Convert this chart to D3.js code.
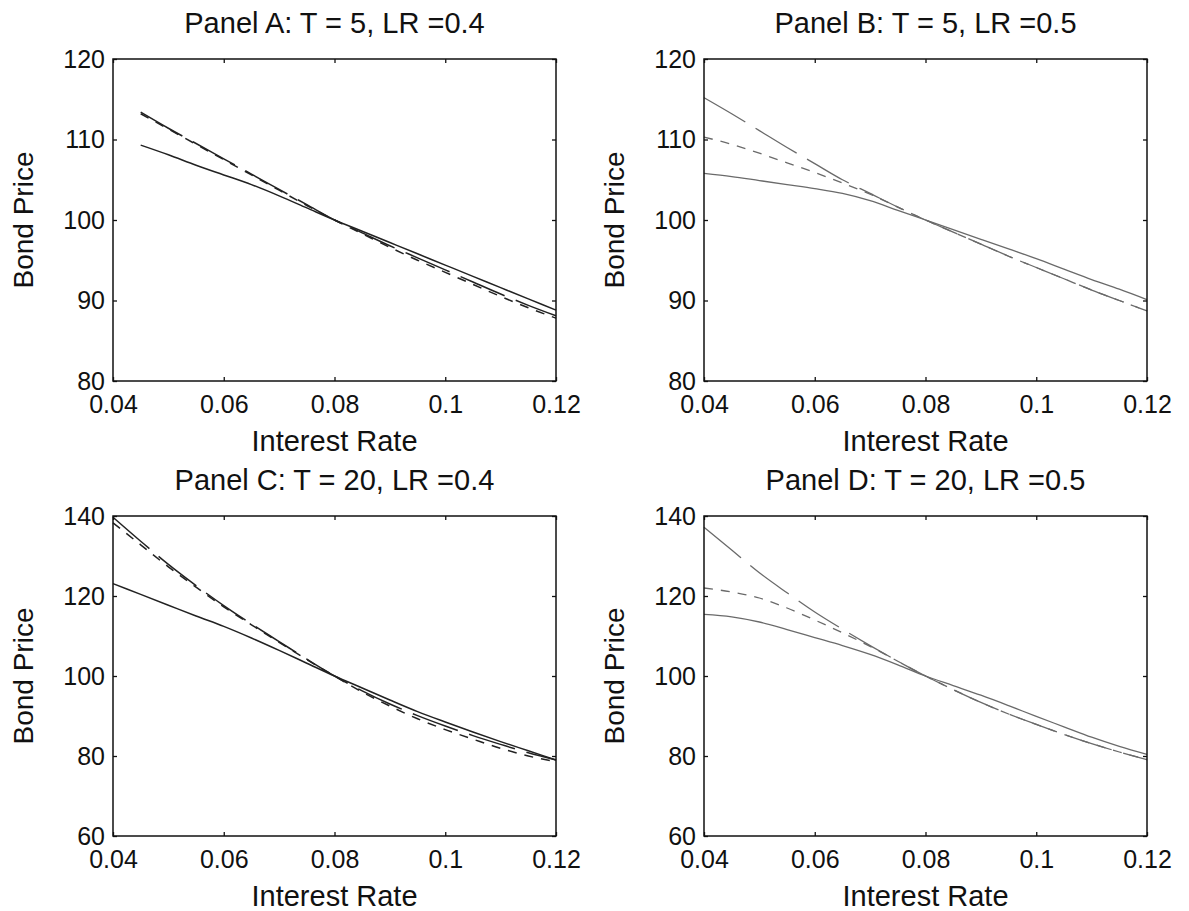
<!DOCTYPE html>
<html>
<head>
<meta charset="utf-8">
<script src="https://cdn.jsdelivr.net/npm/d3@7"></script>
<style>
  body { margin: 0; background: #fff; }
  text { font-family: "Liberation Sans", Arial, Helvetica, sans-serif; fill: #111; }
</style>
</head>
<body>
<svg id="chart" width="1189" height="911"></svg>
<script>
// interest rate grid (panel A starts at 0.045)
var rates  = [0.04, 0.045, 0.05, 0.055, 0.06, 0.065, 0.07, 0.075, 0.08, 0.085, 0.09, 0.095, 0.1, 0.105, 0.11, 0.115, 0.12];
var ratesA = [0.045, 0.05, 0.055, 0.06, 0.065, 0.07, 0.075, 0.08, 0.085, 0.09, 0.095, 0.1, 0.105, 0.11, 0.115, 0.12];

// Panel A: T = 5, LR = 0.4
var aSolid = [109.3, 108.1, 106.8, 105.6, 104.4, 103.0, 101.5, 100.0, 98.6, 97.2, 95.8, 94.4, 93.0, 91.6, 90.2, 88.8];
var aLong  = [113.4, 111.4, 109.5, 107.6, 105.7, 103.8, 101.9, 100.0, 98.4, 96.8, 95.3, 93.8, 92.3, 90.8, 89.4, 88.1];
var aShort = [113.2, 111.3, 109.4, 107.5, 105.6, 103.7, 101.8, 100.0, 98.3, 96.6, 95.0, 93.5, 92.0, 90.5, 89.1, 87.8];

// Panel B: T = 5, LR = 0.5
var bSolid = [105.8, 105.4, 104.9, 104.4, 103.9, 103.3, 102.4, 101.2, 100.0, 98.8, 97.6, 96.4, 95.2, 93.9, 92.6, 91.4, 90.1];
var bLong  = [115.2, 113.2, 111.1, 109.0, 107.0, 105.0, 103.3, 101.6, 100.0, 98.5, 97.0, 95.5, 94.1, 92.7, 91.3, 90.0, 88.7];
var bShort = [110.3, 109.4, 108.3, 107.1, 105.9, 104.6, 103.2, 101.6, 100.0, 98.5, 97.0, 95.5, 94.1, 92.7, 91.3, 90.0, 88.7];

// Panel C: T = 20, LR = 0.4
var cSolid = [123.1, 120.4, 117.7, 115.0, 112.4, 109.5, 106.4, 103.2, 100.0, 97.0, 94.0, 91.1, 88.5, 86.0, 83.6, 81.3, 79.0];
var cLong  = [139.7, 133.7, 127.9, 122.6, 117.6, 113.0, 108.6, 104.2, 100.0, 96.3, 93.0, 90.1, 87.5, 85.1, 82.9, 80.8, 79.0];
var cShort = [138.3, 132.8, 127.3, 122.2, 117.3, 112.8, 108.4, 104.1, 100.0, 96.0, 92.5, 89.3, 86.6, 84.2, 81.9, 80.0, 78.6];

// Panel D: T = 20, LR = 0.5
var dSolid = [115.4, 114.8, 113.5, 111.6, 109.6, 107.6, 105.4, 102.8, 100.0, 97.6, 95.2, 92.6, 89.9, 87.3, 84.7, 82.4, 80.4];
var dLong  = [137.2, 131.5, 125.8, 120.8, 116.0, 111.7, 107.6, 103.7, 100.0, 96.6, 93.4, 90.5, 87.9, 85.4, 83.1, 81.0, 79.1];
var dShort = [122.0, 121.0, 119.5, 117.0, 114.0, 110.8, 107.4, 103.7, 100.0, 96.6, 93.4, 90.5, 87.9, 85.4, 83.1, 81.0, 79.1];

var xTicks = [0.04, 0.06, 0.08, 0.1, 0.12];
var yTicksTop = [80, 90, 100, 110, 120];
var yTicksBottom = [60, 80, 100, 120, 140];

var panels = [
    {title: "Panel A: T = 5, LR =0.4", left: 113, top: 59, bottom: 381, yDom: [80, 120], yTicks: yTicksTop,
     x: ratesA, series: [aSolid, aLong, aShort], color: "#222", width: 1.5},
    {title: "Panel B: T = 5, LR =0.5", left: 704, top: 59, bottom: 381, yDom: [80, 120], yTicks: yTicksTop,
     x: rates, series: [bSolid, bLong, bShort], color: "#6a6a6a", width: 1.3},
    {title: "Panel C: T = 20, LR =0.4", left: 113, top: 516, bottom: 836, yDom: [60, 140], yTicks: yTicksBottom,
     x: rates, series: [cSolid, cLong, cShort], color: "#222", width: 1.5},
    {title: "Panel D: T = 20, LR =0.5", left: 704, top: 516, bottom: 836, yDom: [60, 140], yTicks: yTicksBottom,
     x: rates, series: [dSolid, dLong, dShort], color: "#6a6a6a", width: 1.3}
];
var plotWidth = 443;
var dashes = [null, "48,12", "9,8"];

var svg = d3.select("#chart");

panels.forEach(function (p) {
    var w = plotWidth, h = p.bottom - p.top;
    var g = svg.append("g").attr("transform", "translate(" + p.left + "," + p.top + ")");

    var xScale = d3.scaleLinear().domain([0.04, 0.12]).range([0, w]);
    var yScale = d3.scaleLinear().domain(p.yDom).range([h, 0]);

    // curves
    var line = d3.line()
        .x(function (d) { return xScale(d[0]); })
        .y(function (d) { return yScale(d[1]); })
        .curve(d3.curveMonotoneX);

    p.series.forEach(function (vals, i) {
        var pts = vals.map(function (v, j) { return [p.x[j], v]; });
        g.append("path")
            .attr("d", line(pts))
            .attr("fill", "none")
            .attr("stroke", p.color)
            .attr("stroke-width", p.width)
            .attr("stroke-dasharray", dashes[i]);
    });

    // axes, ticks point inward on all four sides
    var fmt = function (d) { return String(d); };
    g.append("g").attr("transform", "translate(0," + h + ")")
        .call(d3.axisBottom(xScale).tickValues(xTicks).tickFormat(fmt).tickSize(-4).tickPadding(14));
    g.append("g")
        .call(d3.axisLeft(yScale).tickValues(p.yTicks).tickSize(-4).tickPadding(8));
    g.append("g").call(d3.axisTop(xScale).tickValues(xTicks).tickFormat("").tickSize(-4));
    g.append("g").attr("transform", "translate(" + w + ",0)")
        .call(d3.axisRight(yScale).tickValues(p.yTicks).tickFormat("").tickSize(-4));

    g.selectAll(".domain").remove();
    g.selectAll(".tick line").attr("stroke", "#111").attr("stroke-width", 1.3);
    g.selectAll(".tick text").style("font-size", "25px").style("fill", "#111")
        .style("font-family", "'Liberation Sans', Arial, sans-serif");

    g.append("rect")
        .attr("width", w).attr("height", h)
        .attr("fill", "none").attr("stroke", "#111").attr("stroke-width", 1.5);

    // labels
    g.append("text")
        .attr("x", w / 2).attr("y", -26)
        .attr("text-anchor", "middle")
        .style("font-size", "29px")
        .text(p.title);
    g.append("text")
        .attr("x", w / 2).attr("y", h + 70)
        .attr("text-anchor", "middle")
        .style("font-size", "29px")
        .text("Interest Rate");
    g.append("text")
        .attr("transform", "translate(-80," + (h / 2) + ") rotate(-90)")
        .attr("text-anchor", "middle")
        .style("font-size", "28px")
        .text("Bond Price");
});
</script>
</body>
</html>
